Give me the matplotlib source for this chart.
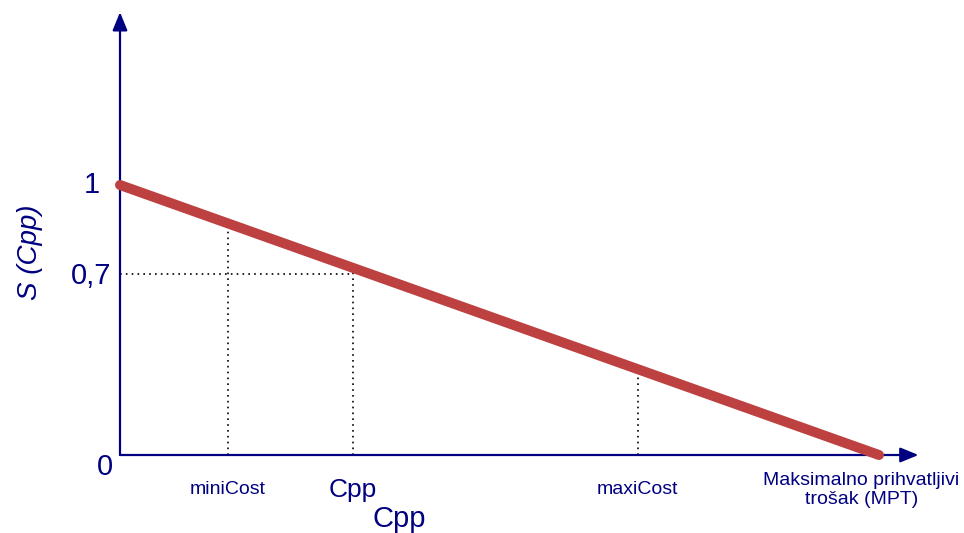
import matplotlib

matplotlib.use("Agg")
import matplotlib.pyplot as plt

# x: 0 = origin, 1 = maksimalno prihvatljivi trosak (MPT); y: S(Cpp)
LINE_X = [0.0, 1.0]
LINE_S = [1.0, 0.0]
MARK_X = [0.142, 0.307, 0.682]          # miniCost, Cpp, maxiCost
MARK_LABELS = ["miniCost", "Cpp", "maxiCost"]
MARK_SIZES = [14, 19, 14]
CPP_S = 0.67                           # level of the "0,7" dotted line
Y_TICKS = [1.0, CPP_S, 0.0]
Y_LABELS = ["1", "0,7", "0"]

NAVY = "#000080"
RED = "#be4141"

plt.rcParams["font.family"] = ["Liberation Sans", "DejaVu Sans"]

fig = plt.figure(figsize=(9.64, 5.33), dpi=100)
ax = fig.add_axes([0, 0, 1, 1])
ax.set_xlim(-120 / 759, 844 / 759)
ax.set_ylim(-78 / 270, 455 / 270)
ax.axis("off")


def s_at(x):
    return LINE_S[0] + (LINE_S[1] - LINE_S[0]) * (x - LINE_X[0]) / (LINE_X[1] - LINE_X[0])


# axes with arrow heads
arrow = dict(arrowstyle="-|>,head_length=1.1,head_width=0.45", color=NAVY, lw=1.6,
             shrinkA=0, shrinkB=0)
ax.annotate("", xy=(0, 1.64), xytext=(0, 0), arrowprops=arrow)
ax.annotate("", xy=(1.052, 0), xytext=(0, 0), arrowprops=arrow)

# dotted guides
for x in MARK_X:
    ax.plot([x, x], [0, s_at(x)], color="black", lw=1.2, ls=(0, (1, 2.5)), zorder=1)
ax.plot([0, MARK_X[1]], [CPP_S, CPP_S], color="black", lw=1.2, ls=(0, (1, 2.5)), zorder=1)

ax.plot(LINE_X, LINE_S, color=RED, lw=7.2, solid_capstyle="round", zorder=3)

# y labels
ax.text(-0.037, Y_TICKS[0], Y_LABELS[0], color=NAVY, fontsize=21, ha="center", va="center")
ax.text(-0.011, Y_TICKS[1] - 0.008, Y_LABELS[1], color=NAVY, fontsize=21, ha="right", va="center")
ax.text(-0.02, Y_TICKS[2] - 0.045, Y_LABELS[2], color=NAVY, fontsize=21, ha="center", va="center")
ax.text(-0.118, 0.75, "S (Cpp)", color=NAVY, fontsize=20, style="italic", rotation=90,
        ha="center", va="center")

# x labels
for x, lab, fs in zip(MARK_X, MARK_LABELS, MARK_SIZES):
    ax.text(x, -0.128, lab, color=NAVY, fontsize=fs, ha="center", va="center")
ax.text(0.977, -0.13, "Maksimalno prihvatljivi\ntrošak (MPT)", color=NAVY, fontsize=14,
        ha="center", va="center", linespacing=1.2)
ax.text(0.368, -0.237, "Cpp", color=NAVY, fontsize=21, ha="center", va="center")

fig.savefig("out.png", dpi=100)
